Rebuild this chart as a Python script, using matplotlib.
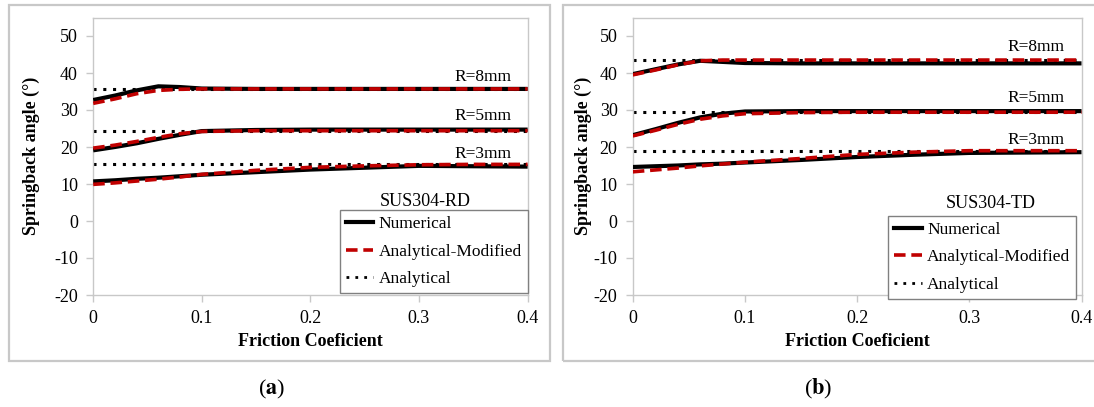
import matplotlib
matplotlib.use('Agg')
import matplotlib.pyplot as plt
from matplotlib.patches import Rectangle
from matplotlib.lines import Line2D

plt.rcParams['font.family'] = ['Liberation Serif', 'DejaVu Serif']
plt.rcParams['mathtext.fontset'] = 'stix'
plt.rcParams['axes.unicode_minus'] = False

# Friction coefficient sample points (shared by every curve)
friccao = [0, 0.02, 0.04, 0.06, 0.08, 0.1, 0.15, 0.2, 0.25, 0.3, 0.35, 0.4]

# SUS304-RD
rd_num_r8 = [32.7, 33.9, 35.3, 36.4, 36.2, 35.8, 35.7, 35.7, 35.7, 35.7, 35.7, 35.7]
rd_mod_r8 = [31.8, 33.0, 34.4, 35.3, 35.6, 35.7, 35.7, 35.7, 35.7, 35.7, 35.7, 35.7]
rd_ana_r8 = 35.6
rd_num_r5 = [19.1, 20.0, 21.0, 22.2, 23.3, 24.3, 24.6, 24.7, 24.7, 24.7, 24.7, 24.7]
rd_mod_r5 = [19.7, 20.5, 21.5, 22.6, 23.6, 24.2, 24.4, 24.4, 24.4, 24.4, 24.4, 24.4]
rd_ana_r5 = 24.4
rd_num_r3 = [10.7, 11.0, 11.4, 11.7, 12.1, 12.5, 13.2, 13.9, 14.4, 14.9, 14.8, 14.7]
rd_mod_r3 = [9.9, 10.3, 10.8, 11.3, 11.9, 12.6, 13.7, 14.5, 14.9, 15.2, 15.3, 15.3]
rd_ana_r3 = 15.3

# SUS304-TD
td_num_r8 = [39.7, 41.0, 42.3, 43.3, 43.0, 42.7, 42.6, 42.6, 42.6, 42.6, 42.6, 42.6]
td_mod_r8 = [39.5, 40.8, 42.2, 43.3, 43.5, 43.5, 43.5, 43.5, 43.5, 43.5, 43.5, 43.5]
td_ana_r8 = 43.5
td_num_r5 = [23.2, 24.8, 26.5, 28.0, 29.0, 29.6, 29.7, 29.7, 29.7, 29.7, 29.7, 29.7]
td_mod_r5 = [23.0, 24.5, 26.1, 27.5, 28.4, 29.0, 29.3, 29.4, 29.4, 29.4, 29.4, 29.4]
td_ana_r5 = 29.5
td_num_r3 = [14.6, 14.8, 15.0, 15.3, 15.5, 15.8, 16.5, 17.3, 17.9, 18.4, 18.5, 18.6]
td_mod_r3 = [13.3, 13.8, 14.3, 14.9, 15.4, 15.9, 16.9, 18.0, 18.6, 19.0, 19.0, 19.0]
td_ana_r3 = 18.9

raios = ['R=8mm', 'R=5mm', 'R=3mm']
VERMELHO = '#C00000'
CINZA = '#c8c8c8'


def desenhar_painel(ax, curvas, pos_rotulos, material, pos_material, pos_legenda, pad_y):
    for num, mod, ana in curvas:
        ax.plot(friccao, [ana] * len(friccao), color='black', linestyle=(0, (1, 2.2)),
                linewidth=2.2, zorder=2)
        ax.plot(friccao, num, color='black', linewidth=3.0, zorder=3,
                solid_capstyle='butt')
        ax.plot(friccao, mod, color=VERMELHO, linewidth=2.6, linestyle=(0, (3.2, 1.6)),
                zorder=4)

    for rotulo, (x, y) in zip(raios, pos_rotulos):
        ax.text(x, y, rotulo, ha='center', va='center', fontsize=12.5)
    ax.text(pos_material[0], pos_material[1], material, ha='center', va='center', fontsize=13)

    ax.set_xlim(0, 0.4)
    ax.set_ylim(-20, 55)
    ax.set_xticks([0, 0.1, 0.2, 0.3, 0.4])
    ax.set_xticklabels(['0', '0.1', '0.2', '0.3', '0.4'])
    ax.set_yticks(range(-20, 51, 10))
    ax.tick_params(axis='both', direction='out', length=5, width=1, color=CINZA,
                   labelsize=13, pad=6)
    for lado in ax.spines.values():
        lado.set_color(CINZA)
        lado.set_linewidth(1.0)
    ax.set_xlabel('Friction Coeficient', fontweight='bold', fontsize=13, labelpad=4)
    ax.set_ylabel('Springback angle (°)', fontweight='bold', fontsize=13, labelpad=pad_y)

    handles = [
        Line2D([], [], color='black', linewidth=3.0),
        Line2D([], [], color=VERMELHO, linewidth=2.6, linestyle=(0, (3.2, 1.6))),
        Line2D([], [], color='black', linewidth=2.0, linestyle=(0, (1, 2.2))),
    ]
    leg = ax.legend(handles, ['Numerical', 'Analytical-Modified', 'Analytical'],
                    loc='upper left', bbox_to_anchor=pos_legenda, fontsize=12.5,
                    frameon=True, fancybox=False, framealpha=1, edgecolor='#808080',
                    handlelength=1.6, handletextpad=0.3, borderpad=0.35,
                    labelspacing=0.65, borderaxespad=0)
    leg.get_frame().set_linewidth(1.0)


fig = plt.figure(figsize=(10.94, 4.07), dpi=100)
W, H = 1094, 407

# gray boxes around each panel
for x0, x1 in [(8.5, 550), (563, 1098)]:
    fig.patches.append(Rectangle((x0 / W, 1 - 361 / H), (x1 - x0) / W, (361 - 5) / H,
                                 transform=fig.transFigure, fill=False,
                                 edgecolor='#c8c8c8', linewidth=1.6))

ax1 = fig.add_axes([93.2 / W, 1 - 295 / H, (527.6 - 93.2) / W, (295 - 17.5) / H])
ax2 = fig.add_axes([632.8 / W, 1 - 295 / H, (1081.5 - 632.8) / W, (295 - 17.5) / H])

desenhar_painel(
    ax1,
    [(rd_num_r8, rd_mod_r8, rd_ana_r8), (rd_num_r5, rd_mod_r5, rd_ana_r5),
     (rd_num_r3, rd_mod_r3, rd_ana_r3)],
    [(0.359, 39.0), (0.359, 28.4), (0.359, 18.1)],
    'SUS304-RD', (0.306, 5.4), (0.567, 0.306), 10)

desenhar_painel(
    ax2,
    [(td_num_r8, td_mod_r8, td_ana_r8), (td_num_r5, td_mod_r5, td_ana_r5),
     (td_num_r3, td_mod_r3, td_ana_r3)],
    [(0.359, 47.0), (0.359, 33.2), (0.359, 22.0)],
    'SUS304-TD', (0.319, 4.6), (0.569, 0.286), 1)

fig.text(272 / W, 1 - 389 / H, r'($\mathbf{a}$)', ha='center', va='center', fontsize=16)
fig.text(818 / W, 1 - 389 / H, r'($\mathbf{b}$)', ha='center', va='center', fontsize=16)

fig.savefig('out.png', dpi=100)
plt.close(fig)
